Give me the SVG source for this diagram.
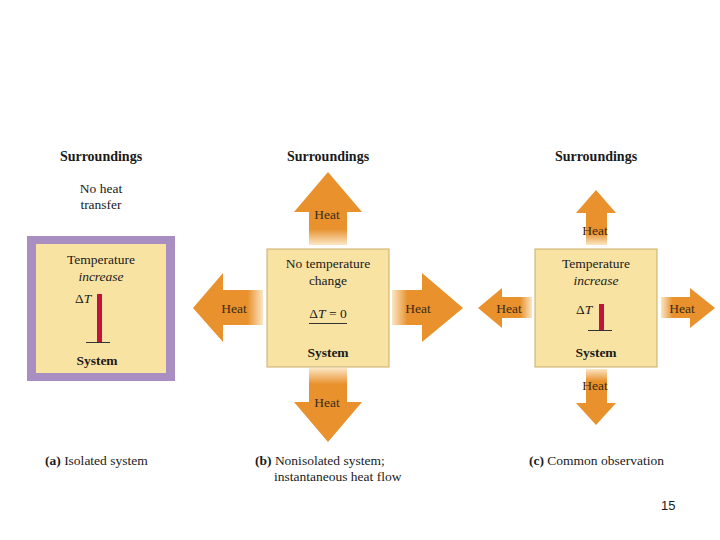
<svg xmlns="http://www.w3.org/2000/svg" width="720" height="540" viewBox="0 0 720 540">
<style>
text{font-family:"Liberation Serif","Times New Roman",serif;fill:#1a1a1a;font-size:13.5px}
.b{font-weight:bold}
.sur{font-weight:bold;font-size:14px}
.i{font-style:italic}
.h{fill:#3b2a18;font-size:13.5px}
.m{text-anchor:middle}
.box{fill:#f9e3a3;stroke:#c9ab6b;stroke-width:1}
.bar{fill:#c2143a}
.base{stroke:#333;stroke-width:1}
</style>
<defs>
<linearGradient id="gU" x1="0" y1="0" x2="0" y2="1"><stop offset="0.78" stop-color="#e8912d"/><stop offset="1" stop-color="#fbe6c4"/></linearGradient>
<linearGradient id="gD" x1="0" y1="1" x2="0" y2="0"><stop offset="0.78" stop-color="#e8912d"/><stop offset="1" stop-color="#fbe6c4"/></linearGradient>
<linearGradient id="gL" x1="0" y1="0" x2="1" y2="0"><stop offset="0.78" stop-color="#e8912d"/><stop offset="1" stop-color="#fbe6c4"/></linearGradient>
<linearGradient id="gR" x1="1" y1="0" x2="0" y2="0"><stop offset="0.78" stop-color="#e8912d"/><stop offset="1" stop-color="#fbe6c4"/></linearGradient>
</defs>
<rect width="720" height="540" fill="#ffffff"/>

<g id="panel-a">
<text class="sur m" x="101" y="161">Surroundings</text>
<text class="m" x="101" y="193">No heat</text>
<text class="m" x="101" y="209">transfer</text>
<rect x="27" y="236" width="148" height="145" fill="#a98ec2"/>
<rect x="36" y="244" width="130" height="129" fill="#f9e3a3"/>
<text class="m" x="101" y="264">Temperature</text>
<text class="m i" x="101" y="281">increase</text>
<text x="75" y="303"><tspan>Δ</tspan><tspan class="i">T</tspan></text>
<rect class="bar" x="97" y="294" width="5" height="48"/>
<line class="base" x1="86" y1="342.5" x2="110" y2="342.5"/>
<text class="b m" x="97" y="365">System</text>
<text x="45" y="465"><tspan class="b">(a)</tspan> Isolated system</text>
</g>

<g id="panel-b">
<text class="sur m" x="328" y="161">Surroundings</text>
<rect class="box" x="267" y="249" width="122" height="118"/>
<text class="m" x="328" y="268">No temperature</text>
<text class="m" x="328" y="285">change</text>
<text class="m" x="328" y="318"><tspan>Δ</tspan><tspan class="i">T</tspan> = 0</text>
<line class="base" x1="309" y1="323.5" x2="347" y2="323.5"/>
<text class="b m" x="328" y="357">System</text>
<text x="255" y="465"><tspan class="b">(b)</tspan> Nonisolated system;</text>
<text x="274" y="481">instantaneous heat flow</text>
</g>

<g id="panel-c">
<text class="sur m" x="596" y="161">Surroundings</text>
<rect class="box" x="535" y="249" width="122" height="118"/>
<text class="m" x="596" y="268">Temperature</text>
<text class="m i" x="596" y="285">increase</text>
<text x="576" y="314"><tspan>Δ</tspan><tspan class="i">T</tspan></text>
<rect class="bar" x="599" y="304" width="5" height="26"/>
<line class="base" x1="588" y1="330.5" x2="612" y2="330.5"/>
<text class="b m" x="596" y="357">System</text>
<text x="529" y="465"><tspan class="b">(c)</tspan> Common observation</text>
</g>

<g id="connectors">
<polygon fill="url(#gU)" points="328,172 362,212 347,212 347,245 309,245 309,212 294,212"/>
<polygon fill="url(#gD)" points="309,368 347,368 347,402 362,402 328,442 294,402 309,402"/>
<polygon fill="url(#gL)" points="193,308 223,273 223,290 263,290 263,325 223,325 223,342"/>
<polygon fill="url(#gR)" points="392,290 422,290 422,273 463,308 422,342 422,325 392,325"/>
<polygon fill="url(#gU)" points="596,190 616,213 607,213 607,245 586,245 586,213 576,213"/>
<polygon fill="url(#gD)" points="586,369 607,369 607,403 616,403 596,425 576,403 586,403"/>
<polygon fill="url(#gL)" points="478,308 502,288 502,297 532,297 532,318 502,318 502,328"/>
<polygon fill="url(#gR)" points="661,297 690,297 690,288 715,308 690,328 690,318 661,318"/>
<text class="h m" x="327" y="219">Heat</text>
<text class="h m" x="234" y="313">Heat</text>
<text class="h m" x="418" y="313">Heat</text>
<text class="h m" x="327" y="407">Heat</text>
<text class="h m" x="595" y="235">Heat</text>
<text class="h m" x="509" y="313">Heat</text>
<text class="h m" x="682" y="313">Heat</text>
<text class="h m" x="595" y="390">Heat</text>
</g>

<text x="661" y="510" style="font-family:'Liberation Sans',Arial,sans-serif;font-size:13px">15</text>
</svg>
